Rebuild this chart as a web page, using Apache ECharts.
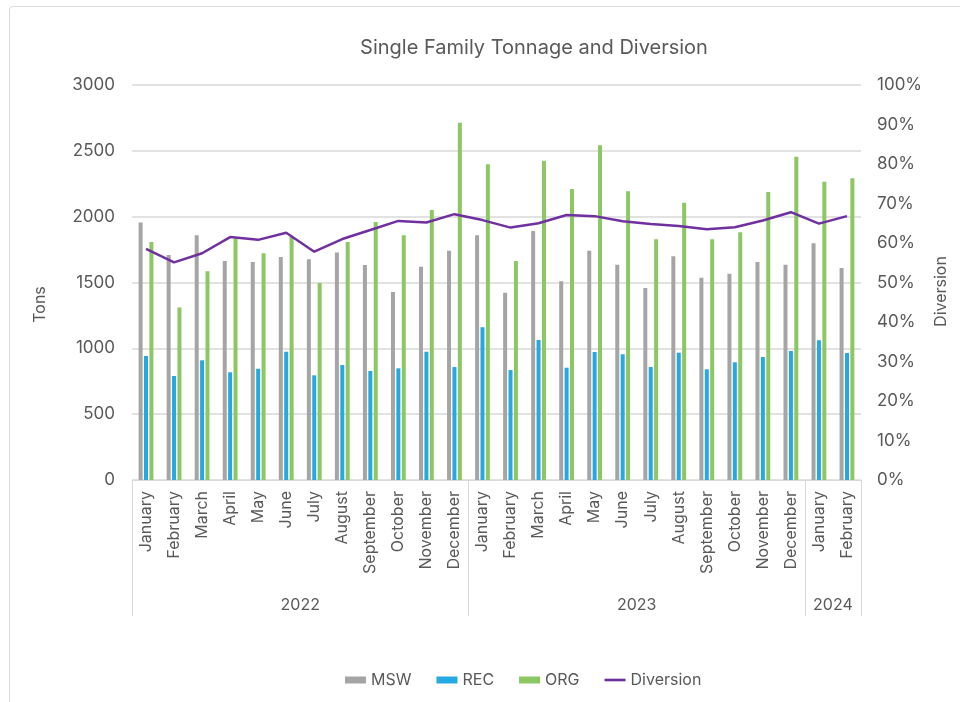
<!DOCTYPE html>
<html>
<head>
<meta charset="utf-8">
<script src="https://cdn.jsdelivr.net/npm/echarts@6/dist/echarts.min.js"></script>
<style>
  html, body { margin: 0; padding: 0; background: #fff; }
  #frame { position: absolute; left: 9px; top: 6px; width: 1000px; height: 760px; border: 1px solid #dcdcdc; border-radius: 4px; }
  #chart { position: absolute; left: 0; top: 0; width: 960px; height: 702px; }
</style>
</head>
<body>
<div id="frame"></div>
<div id="chart"></div>
<script>
// Monthly single family collection (tons) and diversion rate
const months = [
  'January','February','March','April','May','June','July','August','September','October','November','December',
  'January','February','March','April','May','June','July','August','September','October','November','December',
  'January','February'
];
const years = ['2022', '2023', '2024'];
const yearMonthCounts = [12, 12, 2];

const msw = [1955,1709,1858,1663,1656,1694,1676,1727,1633,1428,1620,1742,
             1858,1423,1891,1509,1742,1635,1458,1699,1537,1567,1656,1635,
             1798,1610];
const rec = [942,790,909,818,845,975,795,873,828,848,975,858,
             1160,835,1063,853,972,955,858,967,841,894,934,980,
             1061,965];
const org = [1808,1311,1585,1835,1722,1848,1496,1808,1960,1858,2051,2714,
             2398,1663,2425,2210,2542,2193,1828,2106,1828,1881,2187,2455,
             2266,2291];
const diversion = [0.585,0.551,0.574,0.615,0.608,0.626,0.578,0.610,0.633,0.656,0.652,0.673,
                   0.658,0.639,0.650,0.671,0.668,0.655,0.648,0.643,0.635,0.640,0.657,0.678,
                   0.649,0.668];

const tonsTicks = { min: 0, max: 3000, interval: 500 };
const pctTicks = { min: 0, max: 1, interval: 0.1 };

// Year group boundaries and label centres on the month index scale
const yearEdges = [0];
const yearCentres = [];
yearMonthCounts.forEach(function (n) {
  const start = yearEdges[yearEdges.length - 1];
  yearCentres.push(start + n / 2);
  yearEdges.push(start + n);
});

const FONT = 'Inter, "Open Sans", sans-serif';
const TEXT = '#595959';
const GRID_LINE = '#d9d9d9';

const chart = echarts.init(document.getElementById('chart'), null, { renderer: 'canvas' });

chart.setOption({
  animation: false,
  backgroundColor: 'transparent',
  textStyle: { fontFamily: FONT, color: TEXT },
  title: {
    text: 'Single Family Tonnage and Diversion',
    left: 529,
    top: 33,
    textAlign: 'center',
    textStyle: { fontFamily: FONT, fontSize: 20, fontWeight: 'normal', color: TEXT }
  },
  legend: {
    left: 340,
    top: 667,
    itemWidth: 21,
    itemHeight: 7,
    itemGap: 25,
    textStyle: { fontFamily: FONT, fontSize: 16, color: TEXT },
    data: [
      { name: 'MSW', icon: 'rect' },
      { name: 'REC', icon: 'rect' },
      { name: 'ORG', icon: 'rect' },
      { name: 'Diversion', icon: 'path://M0,0 L24,0 L24,3 L0,3 Z' }
    ]
  },
  grid: {
    left: 132,
    right: 99,
    top: 85,
    bottom: 222,
    outerBoundsMode: 'none'
  },
  xAxis: [
    {
      type: 'category',
      data: months,
      position: 'bottom',
      axisLine: { show: true, lineStyle: { color: GRID_LINE, width: 1 } },
      axisTick: { show: false },
      axisLabel: {
        interval: 0,
        rotate: 90,
        margin: 11,
        fontFamily: FONT,
        fontSize: 16,
        color: TEXT
      },
      splitLine: { show: false }
    },
    {
      // year grouping row under the month labels
      type: 'value',
      min: 0,
      max: months.length,
      position: 'bottom',
      offset: 0,
      axisLine: { show: false },
      splitLine: { show: false },
      axisTick: {
        show: true,
        inside: false,
        length: 136,
        customValues: yearEdges,
        lineStyle: { color: GRID_LINE, width: 1 }
      },
      axisLabel: {
        show: true,
        margin: 117,
        customValues: yearCentres,
        fontFamily: FONT,
        fontSize: 16,
        color: TEXT,
        formatter: function (v) {
          const idx = yearCentres.indexOf(v);
          return idx >= 0 ? years[idx] : '';
        }
      }
    }
  ],
  yAxis: [
    {
      type: 'value',
      min: tonsTicks.min,
      max: tonsTicks.max,
      interval: tonsTicks.interval,
      name: 'Tons',
      nameLocation: 'middle',
      nameGap: 84,
      nameTextStyle: { fontFamily: FONT, fontSize: 16, color: TEXT, padding: [0, 44, 0, 0] },
      axisLine: { show: false },
      axisTick: { show: false },
      axisLabel: {
        margin: 17,
        fontFamily: FONT,
        fontSize: 17,
        color: TEXT,
        formatter: function (v) { return String(v); }
      },
      splitLine: { show: true, lineStyle: { color: GRID_LINE, width: 1.5 } }
    },
    {
      type: 'value',
      min: pctTicks.min,
      max: pctTicks.max,
      interval: pctTicks.interval,
      name: 'Diversion',
      nameLocation: 'middle',
      nameGap: 67,
      nameTextStyle: { fontFamily: FONT, fontSize: 16, color: TEXT, padding: [0, 18, 0, 0] },
      axisLine: { show: false },
      axisTick: { show: false },
      axisLabel: {
        margin: 16,
        fontFamily: FONT,
        fontSize: 17,
        color: TEXT,
        formatter: function (v) { return Math.round(v * 100) + '%'; }
      },
      splitLine: { show: false }
    }
  ],
  series: [
    {
      name: 'MSW',
      type: 'bar',
      xAxisIndex: 0,
      yAxisIndex: 0,
      data: msw,
      barWidth: 4,
      barGap: '35%',
      itemStyle: { color: '#a5a5a5' }
    },
    {
      name: 'REC',
      type: 'bar',
      xAxisIndex: 0,
      yAxisIndex: 0,
      data: rec,
      barWidth: 4,
      barGap: '35%',
      itemStyle: { color: '#26a9e0' }
    },
    {
      name: 'ORG',
      type: 'bar',
      xAxisIndex: 0,
      yAxisIndex: 0,
      data: org,
      barWidth: 4,
      barGap: '35%',
      itemStyle: { color: '#8cc763' }
    },
    {
      name: 'Diversion',
      type: 'line',
      xAxisIndex: 0,
      yAxisIndex: 1,
      data: diversion,
      symbol: 'none',
      lineStyle: { color: '#7030a0', width: 2.5 },
      itemStyle: { color: '#7030a0' },
      z: 5
    }
  ]
});
</script>
</body>
</html>
